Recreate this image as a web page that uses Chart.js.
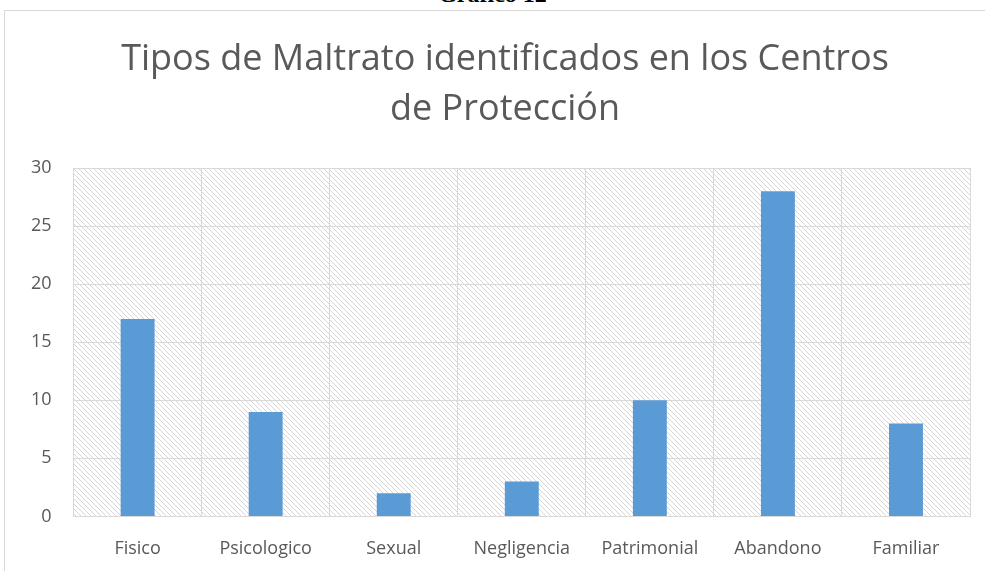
<!DOCTYPE html>
<html><head><meta charset="utf-8">
<script src="https://cdn.jsdelivr.net/npm/chart.js@4"></script>
<style>
html,body{margin:0;padding:0;background:#fff;overflow:hidden;}
#wrap{position:relative;width:985px;height:571px;}
#cap{position:absolute;left:0;width:985px;top:-19px;text-align:center;font-family:"Liberation Serif",serif;font-weight:bold;font-size:24px;color:#000;}
#frame{position:absolute;left:4px;top:10px;width:990px;height:600px;border:1px solid #d9d9d9;box-sizing:border-box;}
canvas{position:absolute;left:0;top:0;}
</style></head><body>
<div id="wrap">
<div id="cap">Gráfico 12</div>
<div id="frame"></div>
<canvas id="c" width="985" height="571"></canvas>
</div>
<script>
const categories = ["Fisico","Psicologico","Sexual","Negligencia","Patrimonial","Abandono","Familiar"];
const values = [17,9,2,3,10,28,8];
const titleLines = ["Tipos de Maltrato identificados en los Centros","de Protección"];

function makePattern(ctx){
  const p=document.createElement('canvas');p.width=5;p.height=5;
  const g=p.getContext('2d');
  g.fillStyle='#d6d6d6';
  for(let i=0;i<5;i++){g.fillRect(i,i,1,1);}
  return ctx.createPattern(p,'repeat');
}
const bgPlugin={id:'bg',beforeDraw(chart){
  const {ctx,chartArea:a}=chart;
  ctx.save();ctx.fillStyle=makePattern(ctx);
  ctx.fillRect(a.left,a.top,a.right-a.left,a.bottom-a.top);ctx.restore();
}};
const titlePlugin={id:'ttl',afterDraw(chart){
  const ctx=chart.ctx;ctx.save();
  ctx.font='36px "Open Sans", sans-serif';ctx.fillStyle='#595959';
  ctx.textAlign='center';ctx.textBaseline='middle';
  titleLines.forEach((t,i)=>ctx.fillText(t,505,60+i*50));
  ctx.restore();
}};
Chart.defaults.font.family='"Open Sans", sans-serif';
new Chart(document.getElementById('c'),{
  type:'bar',
  data:{labels:categories,datasets:[{data:values,backgroundColor:'#5b9bd5',barPercentage:0.265,categoryPercentage:1}]},
  plugins:[bgPlugin,titlePlugin],
  options:{
    responsive:false,animation:false,
    layout:{padding:{left:9,right:15,top:168,bottom:-11}},
    plugins:{legend:{display:false},tooltip:{enabled:false},title:{display:false}},
    scales:{
      x:{grid:{color:'#d9d9d9',offset:true,drawTicks:false},border:{color:'#d9d9d9'},
         ticks:{color:'#595959',font:{size:18},padding:22}},
      y:{min:0,max:30,grid:{color:'#d9d9d9',drawTicks:false},border:{color:'#d9d9d9'},
         ticks:{stepSize:5,color:'#595959',font:{size:18},padding:22}}
    }
  }
});
</script>
</body></html>
